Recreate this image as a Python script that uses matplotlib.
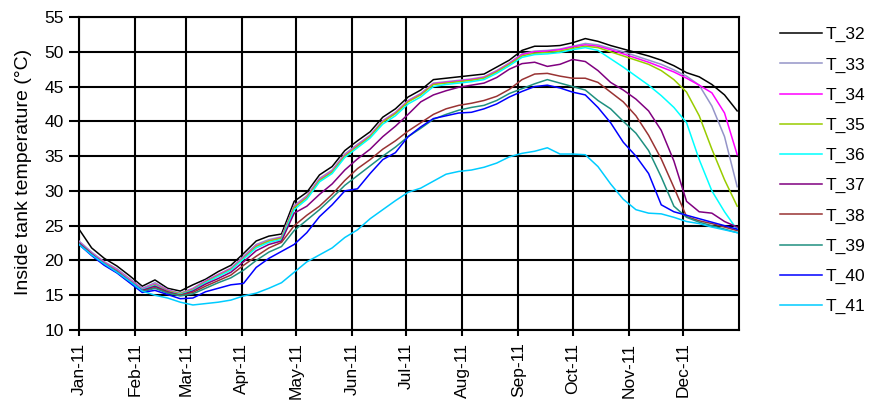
import numpy as np
import matplotlib
matplotlib.use("Agg")
import matplotlib.pyplot as plt
import matplotlib.dates as mdates

plt.rcParams['font.family'] = ['Liberation Sans', 'DejaVu Sans']

# Weekly readings, day offsets from 1 Jan 2011
day_offsets = list(range(0, 365, 7))

series_names = ["T_32", "T_33", "T_34", "T_35", "T_36",
                "T_37", "T_38", "T_39", "T_40", "T_41"]

T_32 = [24.5, 21.8, 20.3, 19.2, 17.8, 16.3, 17.2, 16.0, 15.6, 16.5, 17.3, 18.4, 19.3,
        21.0, 22.8, 23.5, 23.8, 28.5, 29.8, 32.3, 33.5, 35.8, 37.2, 38.5, 40.6, 41.8,
        43.5, 44.5, 46.0, 46.2, 46.4, 46.6, 46.8, 47.8, 48.8, 50.2, 50.8, 50.8, 50.9,
        51.3, 51.9, 51.5, 50.9, 50.4, 49.9, 49.4, 48.8, 48.0, 47.0, 46.4, 45.3, 43.8, 41.5]
T_33 = [22.8, 21.2, 19.8, 18.8, 17.4, 16.0, 16.8, 15.8, 15.3, 16.0, 17.1, 18.0, 18.9,
        20.6, 22.3, 23.0, 23.4, 27.9, 29.3, 31.8, 33.0, 35.3, 36.7, 38.0, 40.1, 41.3,
        43.0, 44.0, 45.5, 45.7, 45.9, 46.1, 46.4, 47.3, 48.4, 49.7, 50.1, 50.2, 50.4,
        50.8, 51.2, 51.0, 50.5, 50.0, 49.4, 48.8, 48.2, 47.4, 46.5, 45.2, 42.2, 37.8, 30.6]
T_34 = [22.6, 21.0, 19.7, 18.6, 17.2, 15.9, 16.6, 15.7, 15.2, 15.9, 17.0, 17.9, 18.8,
        20.4, 22.1, 22.8, 23.3, 27.7, 29.1, 31.6, 32.8, 35.1, 36.5, 37.9, 40.0, 41.2,
        42.9, 43.9, 45.4, 45.6, 45.8, 46.0, 46.3, 47.2, 48.3, 49.6, 50.0, 50.1, 50.3,
        50.7, 51.0, 50.8, 50.3, 49.7, 49.1, 48.5, 47.8, 47.1, 46.2, 45.2, 44.1, 41.2, 35.2]
T_35 = [22.5, 20.9, 19.6, 18.5, 17.1, 15.8, 16.5, 15.6, 15.2, 15.8, 16.9, 17.8, 18.7,
        20.3, 22.0, 22.8, 23.2, 27.6, 29.0, 31.5, 32.7, 35.0, 36.4, 37.8, 39.9, 41.1,
        42.8, 43.8, 45.3, 45.5, 45.7, 45.9, 46.2, 47.1, 48.2, 49.4, 49.8, 49.9, 50.1,
        50.5, 50.8, 50.6, 50.0, 49.4, 48.8, 48.2, 47.3, 46.0, 44.2, 40.8, 36.0, 31.6, 27.8]
T_36 = [22.5, 20.9, 19.5, 18.4, 17.0, 15.8, 16.4, 15.5, 15.1, 15.7, 16.8, 17.7, 18.6,
        20.2, 21.8, 22.6, 23.0, 27.3, 28.8, 31.3, 32.5, 34.8, 36.2, 37.6, 39.6, 40.8,
        42.5, 43.5, 45.0, 45.3, 45.5, 45.7, 46.0, 46.9, 48.0, 49.2, 49.6, 49.7, 49.9,
        50.3, 50.6, 50.2, 49.0, 47.8, 46.5, 45.2, 43.7, 42.0, 39.8, 34.5, 30.0, 27.0, 24.4]
T_37 = [22.5, 20.9, 19.5, 18.4, 17.0, 15.7, 16.3, 15.5, 15.0, 15.6, 16.6, 17.4, 18.3,
        19.8, 21.4, 22.3, 22.8, 26.8, 27.8, 29.5, 31.0, 33.0, 34.6, 36.0, 37.8, 39.3,
        41.0, 42.8, 43.8, 44.4, 44.9, 45.2, 45.5, 46.3, 47.5, 48.3, 48.5, 47.9, 48.2,
        48.9, 48.6, 47.3, 45.6, 44.5, 43.2, 41.5, 38.7, 34.3, 28.5, 27.0, 26.8, 25.6, 24.8]
T_38 = [22.5, 20.9, 19.4, 18.3, 16.9, 15.6, 16.1, 15.4, 15.0, 15.4, 16.3, 17.1, 17.9,
        19.3, 20.6, 21.8, 22.6, 25.0, 26.5, 27.8, 29.5, 31.5, 33.2, 34.5, 36.0, 37.2,
        38.6, 39.8, 41.0, 41.8, 42.3, 42.6, 43.0, 43.6, 44.6, 46.0, 46.8, 46.9, 46.5,
        46.2, 46.2, 45.6, 44.2, 42.8, 40.8, 38.0, 34.6, 30.5, 26.3, 25.7, 25.3, 24.8, 24.3]
T_39 = [22.4, 20.8, 19.4, 18.3, 16.9, 15.5, 16.0, 15.3, 14.9, 15.2, 16.0, 16.8, 17.5,
        18.6, 20.0, 21.2, 22.0, 24.3, 25.8, 27.3, 29.0, 30.8, 32.2, 33.6, 35.0, 36.3,
        37.8, 39.0, 40.3, 41.0, 41.6, 42.0, 42.3, 43.0, 44.0, 44.7, 45.4, 46.0, 45.5,
        45.0, 44.5, 43.0, 41.8, 40.0, 38.3, 35.8, 32.0, 27.8, 26.2, 25.5, 25.0, 24.5, 24.0]
T_40 = [22.3, 20.7, 19.3, 18.2, 16.8, 15.4, 15.7, 15.1, 14.5, 14.6, 15.5, 16.0, 16.5,
        16.7, 19.0, 20.3, 21.3, 22.3, 24.0, 26.3, 28.0, 30.0, 30.3, 32.5, 34.5, 35.5,
        37.8, 39.2, 40.4, 40.8, 41.2, 41.3, 41.8, 42.5, 43.5, 44.3, 45.0, 45.2, 44.8,
        44.2, 43.8, 42.0, 39.8, 37.0, 35.0, 32.5, 28.0, 27.0, 26.5, 26.0, 25.5, 25.0, 24.5]
T_41 = [22.3, 20.8, 19.5, 18.3, 17.0, 15.6, 15.0, 14.6, 14.0, 13.6, 13.8, 14.0, 14.3,
        14.9, 15.3, 16.0, 16.8, 18.3, 19.8, 20.8, 21.8, 23.3, 24.4, 26.0, 27.3, 28.6,
        29.8, 30.4, 31.4, 32.4, 32.8, 33.0, 33.4, 34.0, 34.9, 35.4, 35.7, 36.2, 35.3,
        35.3, 35.2, 33.5, 31.0, 28.8, 27.3, 26.8, 26.7, 26.2, 25.6, 25.3, 24.8, 24.4, 24.0]

series_values = [T_32, T_33, T_34, T_35, T_36, T_37, T_38, T_39, T_40, T_41]
series_colors = ["#000000", "#9494c8", "#ff00ff", "#99cc00", "#00ffff",
                 "#800080", "#993333", "#1f9080", "#0000ff", "#00ccff"]

y_ticks = [10, 15, 20, 25, 30, 35, 40, 45, 50, 55]
month_ticks = [np.datetime64("2011-%02d-01" % m) for m in range(1, 13)]
y_label = "Inside tank temperature (°C)"

dates = np.datetime64("2011-01-01") + np.array(day_offsets).astype("timedelta64[D]")

fig = plt.figure(figsize=(8.69, 4.12), dpi=100)
ax = fig.add_axes([0.0909, 0.199, 0.7595, 0.7597])

for name, vals, col in zip(series_names, series_values, series_colors):
    ax.plot(dates, vals, color=col, lw=1.1, label=name, zorder=3)

ax.set_xlim(np.datetime64("2011-01-01"), np.datetime64("2012-01-01"))
ax.set_ylim(10, 55)
ax.set_yticks(y_ticks)
ax.set_xticks(month_ticks)
ax.xaxis.set_major_formatter(mdates.DateFormatter("%b-%y"))

ax.grid(True, color="black", lw=1.5, zorder=1)
for sp in ax.spines.values():
    sp.set_linewidth(1.5)
    sp.set_color("black")

ax.tick_params(axis="y", direction="out", length=7, width=1.5,
               labelsize=12.5, colors="black", pad=4)
ax.tick_params(axis="x", direction="out", length=4, width=1.5,
               labelsize=12.5, colors="black", pad=5)
for lbl in ax.get_xticklabels():
    lbl.set_rotation(90)
    lbl.set_va("top")
    lbl.set_ha("center")

fig.text(24 / 869, 1 - 172 / 412, y_label, rotation=90, ha="center",
         va="center", fontsize=14)

fig.legend(loc="upper left", bbox_to_anchor=(780 / 869, 1 - 27 / 412),
           frameon=False, fontsize=12.5, handlelength=2.4, handletextpad=0.25,
           labelspacing=0.86, borderpad=0, borderaxespad=0)

fig.savefig("out.png", dpi=100)
